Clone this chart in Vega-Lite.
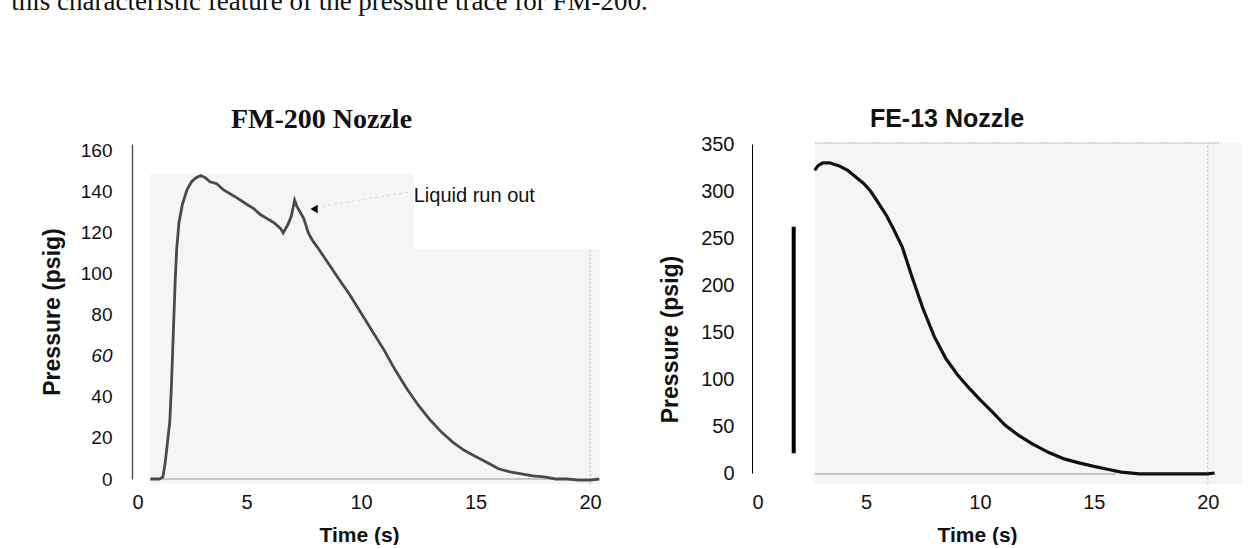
{
  "$schema": "https://vega.github.io/schema/vega-lite/v6.json",
  "padding": {"left": 11, "top": -13, "right": 0, "bottom": 0},
  "background": "white",
  "title": {"text": "this characteristic feature of the pressure trace for FM-200.", "anchor": "start", "frame": "bounds", "dx": -30, "font": "Liberation Serif", "fontSize": 27, "fontWeight": "normal", "color": "#111", "offset": 90},
  "spacing": 46,
  "datasets": {
    "fm200": [
      {"t": 0.8, "p": 0}, {"t": 1.0, "p": 0}, {"t": 1.2, "p": 0}, {"t": 1.35, "p": 1}, {"t": 1.45, "p": 8}, {"t": 1.55, "p": 18}, {"t": 1.65, "p": 28}, {"t": 1.72, "p": 45}, {"t": 1.8, "p": 70}, {"t": 1.88, "p": 95}, {"t": 1.95, "p": 112}, {"t": 2.05, "p": 125}, {"t": 2.2, "p": 134}, {"t": 2.4, "p": 141}, {"t": 2.6, "p": 145}, {"t": 2.8, "p": 147}, {"t": 3.0, "p": 148}, {"t": 3.2, "p": 147}, {"t": 3.4, "p": 145}, {"t": 3.7, "p": 144}, {"t": 4.0, "p": 141}, {"t": 4.3, "p": 139}, {"t": 4.6, "p": 137}, {"t": 5.0, "p": 134}, {"t": 5.3, "p": 132}, {"t": 5.6, "p": 129}, {"t": 5.9, "p": 127}, {"t": 6.2, "p": 125}, {"t": 6.5, "p": 122}, {"t": 6.6, "p": 120}, {"t": 6.8, "p": 124}, {"t": 6.95, "p": 128}, {"t": 7.1, "p": 136}, {"t": 7.2, "p": 133}, {"t": 7.35, "p": 130}, {"t": 7.5, "p": 127}, {"t": 7.7, "p": 120}, {"t": 7.9, "p": 116}, {"t": 8.1, "p": 113}, {"t": 8.4, "p": 108}, {"t": 8.7, "p": 103}, {"t": 9.0, "p": 98}, {"t": 9.5, "p": 90}, {"t": 10.0, "p": 81}, {"t": 10.5, "p": 72}, {"t": 11.0, "p": 63}, {"t": 11.5, "p": 53}, {"t": 12.0, "p": 44}, {"t": 12.5, "p": 36}, {"t": 13.0, "p": 29}, {"t": 13.5, "p": 23}, {"t": 14.0, "p": 18}, {"t": 14.5, "p": 14}, {"t": 15.0, "p": 11}, {"t": 15.5, "p": 8}, {"t": 16.0, "p": 5}, {"t": 16.5, "p": 3.5}, {"t": 17.0, "p": 2.5}, {"t": 17.5, "p": 1.5}, {"t": 18.0, "p": 1}, {"t": 18.5, "p": 0}, {"t": 19.0, "p": 0}, {"t": 19.5, "p": -0.5}, {"t": 20.0, "p": -0.5}, {"t": 20.4, "p": 0}
    ],
    "fe13": [
      {"t": 2.75, "p": 322}, {"t": 2.9, "p": 327}, {"t": 3.1, "p": 330}, {"t": 3.4, "p": 330}, {"t": 3.8, "p": 327}, {"t": 4.2, "p": 322}, {"t": 4.5, "p": 316}, {"t": 4.9, "p": 308}, {"t": 5.2, "p": 300}, {"t": 5.5, "p": 289}, {"t": 5.9, "p": 274}, {"t": 6.2, "p": 260}, {"t": 6.6, "p": 240}, {"t": 7.0, "p": 210}, {"t": 7.5, "p": 175}, {"t": 8.0, "p": 145}, {"t": 8.5, "p": 122}, {"t": 9.0, "p": 105}, {"t": 9.5, "p": 91}, {"t": 10.0, "p": 78}, {"t": 10.5, "p": 66}, {"t": 11.1, "p": 51}, {"t": 11.7, "p": 40}, {"t": 12.3, "p": 31}, {"t": 13.0, "p": 22}, {"t": 13.7, "p": 15}, {"t": 14.3, "p": 11}, {"t": 15.0, "p": 7}, {"t": 15.6, "p": 4}, {"t": 16.2, "p": 1}, {"t": 17.0, "p": -1}, {"t": 18.0, "p": -1}, {"t": 19.0, "p": -1}, {"t": 20.0, "p": -1}, {"t": 20.3, "p": 0}
    ]
  },
  "hconcat": [
    {
      "width": 481,
      "height": 335,
      "title": {"text": "FM-200 Nozzle", "font": "Liberation Serif", "fontSize": 28, "fontWeight": "bold", "anchor": "middle", "dx": -51, "offset": 8, "color": "#111"},
      "layer": [
        {
          "data": {"values": [{"t": 0.8, "t2": 12.3, "p": -2.5, "p2": 149}, {"t": 12.3, "t2": 20.45, "p": -2.5, "p2": 112}]},
          "mark": {"type": "rect", "color": "#f5f5f5"},
          "encoding": {
            "x": {"field": "t", "type": "quantitative", "title": "Time (s)", "scale": {"domain": [0, 21], "nice": false, "zero": false},
              "axis": {"values": [0, 5, 10, 15, 20], "domain": false, "ticks": false, "grid": false, "labelFontSize": 20, "labelPadding": 13, "titleFontSize": 21, "titleFontWeight": "bold", "titlePadding": 12, "titleX": 227}},
            "x2": {"field": "t2"},
            "y": {"field": "p", "type": "quantitative", "title": "Pressure (psig)", "scale": {"domain": [0, 163.4], "nice": false},
              "axis": {"values": [0, 20, 40, 60, 80, 100, 120, 140, 160], "domainColor": "#555", "domainWidth": 1.5, "ticks": false, "grid": false, "labelFontSize": 19, "labelPadding": 20, "titleFontSize": 23, "titleFontWeight": "bold", "titlePadding": 16, "labelFontStyle": {"expr": "datum.value == 60 ? 'italic' : 'normal'"}}},
            "y2": {"field": "p2"}
          }
        },
        {
          "data": {"values": [{"t": 20, "p": -2.5, "p2": 112}]},
          "mark": {"type": "rule", "color": "#bbb", "strokeDash": [2, 2], "strokeWidth": 1},
          "encoding": {"x": {"field": "t", "type": "quantitative", "title": "Time (s)"}, "y": {"field": "p", "type": "quantitative", "title": "Pressure (psig)"}, "y2": {"field": "p2"}}
        },
        {
          "data": {"values": [{"t": 0.8, "p": 0}, {"t": 20.4, "p": 0}]},
          "mark": {"type": "line", "color": "#999", "strokeWidth": 1},
          "encoding": {"x": {"field": "t", "type": "quantitative", "title": "Time (s)"}, "y": {"field": "p", "type": "quantitative", "title": "Pressure (psig)"}}
        },
        {
          "data": {"name": "fm200"},
          "mark": {"type": "line", "color": "#4a4a4a", "strokeWidth": 2.8},
          "encoding": {"x": {"field": "t", "type": "quantitative", "title": "Time (s)"}, "y": {"field": "p", "type": "quantitative", "title": "Pressure (psig)"}}
        },
        {
          "data": {"values": [{"t": 8.3, "p": 133}, {"t": 12.1, "p": 140}]},
          "mark": {"type": "line", "color": "#d8d8d8", "strokeWidth": 1, "strokeDash": [3, 3]},
          "encoding": {"x": {"field": "t", "type": "quantitative", "title": "Time (s)"}, "y": {"field": "p", "type": "quantitative", "title": "Pressure (psig)"}}
        },
        {
          "data": {"values": [{"t": 7.95, "p": 131.7}]},
          "mark": {"type": "point", "shape": "triangle-left", "filled": true, "color": "#000", "size": 70, "opacity": 1},
          "encoding": {"x": {"field": "t", "type": "quantitative", "title": "Time (s)"}, "y": {"field": "p", "type": "quantitative", "title": "Pressure (psig)"}}
        },
        {
          "data": {"values": [{"t": 12.3, "p": 138, "label": "Liquid run out"}]},
          "mark": {"type": "text", "align": "left", "baseline": "middle", "font": "Liberation Sans", "fontSize": 20, "color": "#111"},
          "encoding": {"x": {"field": "t", "type": "quantitative", "title": "Time (s)"}, "y": {"field": "p", "type": "quantitative", "title": "Pressure (psig)"}, "text": {"field": "label"}}
        }
      ]
    },
    {
      "width": 490,
      "height": 329,
      "title": {"text": "FE-13 Nozzle", "font": "Liberation Sans", "fontSize": 25, "fontWeight": "bold", "anchor": "middle", "dx": -50, "offset": 2, "color": "#111"},
      "layer": [
        {
          "data": {"values": [{"t": 2.75, "t2": 21.5, "p": -12, "p2": 351}]},
          "mark": {"type": "rect", "color": "#f5f5f5"},
          "encoding": {
            "x": {"field": "t", "type": "quantitative", "title": "Time (s)", "scale": {"domain": [0, 21.5], "nice": false, "zero": false},
              "axis": {"values": [0, 5, 10, 15, 20], "domain": false, "ticks": false, "grid": false, "labelFontSize": 20, "labelPadding": 19, "titleFontSize": 21, "titleFontWeight": "bold", "titlePadding": 12, "titleX": 225}},
            "x2": {"field": "t2"},
            "y": {"field": "p", "type": "quantitative", "title": "Pressure (psig)", "scale": {"domain": [0, 350], "nice": false},
              "axis": {"values": [0, 50, 100, 150, 200, 250, 300, 350], "domainColor": "#000", "domainWidth": 1, "ticks": false, "grid": false, "labelFontSize": 20, "labelPadding": 18, "titleFontSize": 23, "titleFontWeight": "bold", "titlePadding": 18, "titleY": 195}},
            "y2": {"field": "p2"}
          }
        },
        {
          "data": {"values": [{"t": 2.75, "t2": 20.5, "p": 351}]},
          "mark": {"type": "rule", "color": "#c4c4c4", "strokeDash": [2, 1], "strokeWidth": 1.5},
          "encoding": {"x": {"field": "t", "type": "quantitative", "title": "Time (s)"}, "x2": {"field": "t2"}, "y": {"field": "p", "type": "quantitative", "title": "Pressure (psig)"}}
        },
        {
          "data": {"values": [{"t": 20, "p": -12, "p2": 351}]},
          "mark": {"type": "rule", "color": "#bbb", "strokeDash": [2, 2], "strokeWidth": 1},
          "encoding": {"x": {"field": "t", "type": "quantitative", "title": "Time (s)"}, "y": {"field": "p", "type": "quantitative", "title": "Pressure (psig)"}, "y2": {"field": "p2"}}
        },
        {
          "data": {"values": [{"t": 1.83, "p": 21, "p2": 262}]},
          "mark": {"type": "rule", "color": "#000", "strokeWidth": 4},
          "encoding": {"x": {"field": "t", "type": "quantitative", "title": "Time (s)"}, "y": {"field": "p", "type": "quantitative", "title": "Pressure (psig)"}, "y2": {"field": "p2"}}
        },
        {
          "data": {"values": [{"t": 2.75, "p": -1}, {"t": 16, "p": -1}]},
          "mark": {"type": "line", "color": "#999", "strokeWidth": 1},
          "encoding": {"x": {"field": "t", "type": "quantitative", "title": "Time (s)"}, "y": {"field": "p", "type": "quantitative", "title": "Pressure (psig)"}}
        },
        {
          "data": {"name": "fe13"},
          "mark": {"type": "line", "color": "#111", "strokeWidth": 3.2},
          "encoding": {"x": {"field": "t", "type": "quantitative", "title": "Time (s)"}, "y": {"field": "p", "type": "quantitative", "title": "Pressure (psig)"}}
        }
      ]
    }
  ],
  "config": {
    "view": {"stroke": null},
    "axis": {"labelFont": "Liberation Sans", "titleFont": "Liberation Sans", "labelColor": "#111", "titleColor": "#111"}
  }
}
